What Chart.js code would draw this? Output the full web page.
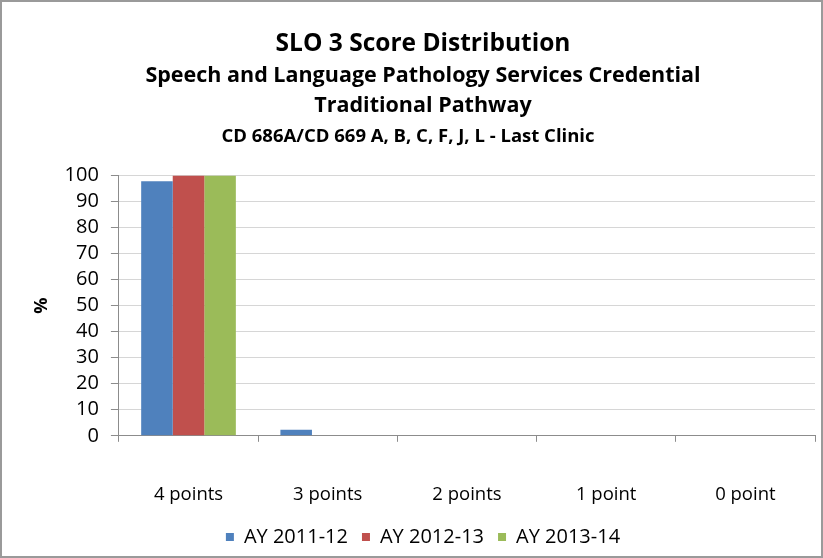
<!DOCTYPE html>
<html>
<head>
<meta charset="utf-8">
<script src="https://cdn.jsdelivr.net/npm/chart.js@4"></script>
<style>
  html, body { margin: 0; padding: 0; background: #fff; }
  #wrap { width: 819px; height: 554px; border: 2px solid #9a9a9a; position: relative; }
</style>
</head>
<body>
<div id="wrap"><canvas id="sloChart" width="819" height="554"></canvas></div>
<script>
// Score categories and yearly percentages
const categories = ['4 points', '3 points', '2 points', '1 point', '0 point']
const ay2011 = [97.7, 2.3, 0, 0, 0]
const ay2012 = [100, 0, 0, 0, 0]
const ay2013 = [100, 0, 0, 0, 0]
const yTicks = [0, 10, 20, 30, 40, 50, 60, 70, 80, 90, 100]

const fontFamily = "'Open Sans', 'Liberation Sans', sans-serif"

// draws the 4th heading line (course list) under the subtitle
const courseLine = {
    id: 'courseLine',
    afterDraw(chart) {
        const ctx = chart.ctx
        ctx.save()
        ctx.font = 'bold 18.5px ' + fontFamily
        ctx.fillStyle = '#000'
        ctx.textAlign = 'center'
        ctx.textBaseline = 'middle'
        ctx.fillText('CD 686A/CD 669 A, B, C, F, J, L - Last Clinic', 406, 135)
        ctx.restore()
    }
}

document.addEventListener('DOMContentLoaded', function() {
    const ctx = document.getElementById('sloChart')
    new Chart(ctx, {
        type: 'bar',
        data: {
            labels: categories,
            datasets: [
                { label: 'AY 2011-12', data: ay2011, backgroundColor: '#4F81BD' },
                { label: 'AY 2012-13', data: ay2012, backgroundColor: '#C0504D' },
                { label: 'AY 2013-14', data: ay2013, backgroundColor: '#9BBB59' }
            ]
        },
        options: {
            responsive: false,
            animation: false,
            layout: { padding: { left: 29, right: 6, top: 27, bottom: 7 } },
            datasets: { bar: { categoryPercentage: 0.68, barPercentage: 1.0 } },
            plugins: {
                title: {
                    display: true,
                    text: 'SLO 3 Score Distribution',
                    color: '#000',
                    font: { family: fontFamily, size: 24.5, weight: 'bold' },
                    padding: { top: 0, bottom: 2 }
                },
                subtitle: {
                    display: true,
                    text: ['Speech and Language Pathology Services Credential', 'Traditional Pathway'],
                    color: '#000',
                    font: { family: fontFamily, size: 21.5, weight: 'bold', lineHeight: 1.395 },
                    padding: { top: 0, bottom: 55 }
                },
                legend: {
                    position: 'bottom',
                    maxHeight: 36,
                    labels: {
                        color: '#000',
                        font: { family: fontFamily, size: 20 },
                        usePointStyle: true,
                        pointStyle: 'rect',
                        boxWidth: 8,
                        boxHeight: 8,
                        padding: 14
                    }
                },
                tooltip: { enabled: false }
            },
            scales: {
                x: {
                    grid: { display: true, drawOnChartArea: false, offset: true, color: '#8c8c8c', tickLength: 6 },
                    border: { color: '#8c8c8c' },
                    ticks: { color: '#000', font: { family: fontFamily, size: 18.5 }, padding: 42 },
                    // tick padding is counted twice when fitting, give the spare room back
                    afterFit(scale) { scale.height -= 35 }
                },
                y: {
                    min: 0,
                    max: 100,
                    afterBuildTicks(axis) { axis.ticks = yTicks.map(v => ({ value: v })) },
                    grid: { color: '#d6d6d6', tickColor: '#8c8c8c', tickLength: 8 },
                    border: { color: '#8c8c8c' },
                    ticks: { color: '#000', font: { family: fontFamily, size: 20 }, padding: 12, autoSkip: false },
                    afterFit(scale) { scale.width -= 11 },
                    title: {
                        display: true,
                        text: '%',
                        color: '#000',
                        font: { family: fontFamily, size: 18, weight: 'bold' },
                        padding: { top: 0, bottom: 11 }
                    }
                }
            }
        },
        plugins: [courseLine]
    })
})
</script>
</body>
</html>
